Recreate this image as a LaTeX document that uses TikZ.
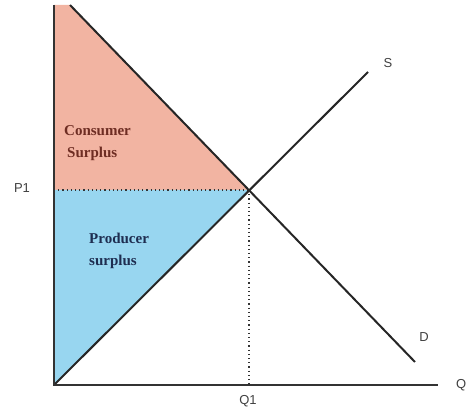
\documentclass[tikz,border=0pt]{standalone}
\usepackage{fontspec}
\setmainfont{Liberation Serif}
\setsansfont{Liberation Sans}
\begin{document}
\begin{tikzpicture}[x=1pt,y=-1pt,
  curve/.style={line width=2pt,black!85},
  axisline/.style={line width=2.6pt,black!80},
  dotline/.style={line width=1.8pt,dash pattern=on 1.2pt off 3pt,black!80},
  axlabel/.style={font=\sffamily\fontsize{13}{13}\selectfont,text=black!75,inner sep=0pt},
  surplus/.style={font=\bfseries\fontsize{15}{22.5}\selectfont,align=left,inner sep=0pt}]
\useasboundingbox (0,0) rectangle (467,411);
\definecolor{cspink}{RGB}{242,180,162}
\definecolor{psblue}{RGB}{152,214,240}
\coordinate (O) at (54,385);
\coordinate (E) at (249,190);
\coordinate (Dtop) at (70,5);
\coordinate (Dend) at (415,362);
\coordinate (Send) at (368,72);
\coordinate (P1c) at (54,190);
\coordinate (Q1c) at (249,385);
\coordinate (Ytop) at (54,5);
\coordinate (Xend) at (438,385);
% fills
\fill[cspink] (Ytop) -- (Dtop) -- (E) -- (P1c) -- cycle;
\fill[psblue] (P1c) -- (E) -- (O) -- cycle;
% dotted guides
\draw[dotline] (P1c) -- (E);
\draw[dotline] (E) -- (Q1c);
% curves
\draw[curve] (O) -- (Send);
\draw[curve] (Dtop) -- (Dend);
% axes
\draw[axisline] (Ytop) -- (O) -- (Xend);
% labels
\node[surplus,text={rgb,255:red,110;green,45;blue,35},anchor=west] (cs) at (64,143) {Consumer\\\hspace*{3pt}Surplus};
\node[surplus,text={rgb,255:red,30;green,45;blue,80},anchor=west] (ps) at (89,251) {Producer\\surplus};
\node[axlabel] (p1) at (22,188) {P1};
\node[axlabel] (q1) at (248,401) {Q1};
\node[axlabel] (s) at (388,63) {S};
\node[axlabel] (d) at (424,337) {D};
\node[axlabel,anchor=west] (q) at (456,385) {Q};
\end{tikzpicture}
\end{document}
